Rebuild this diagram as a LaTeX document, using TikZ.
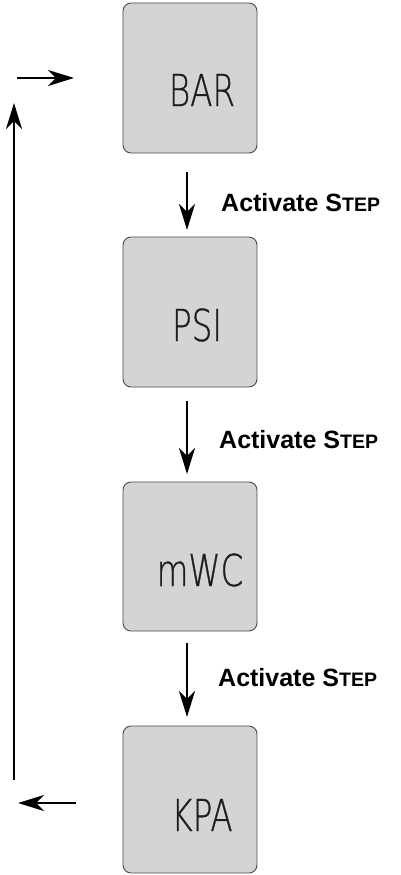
\documentclass[tikz,border=0pt]{standalone}
\usepackage{fontspec}
\setmainfont{Liberation Sans}
\newfontfamily\lcdfont[FakeStretch=0.74,FakeBold=0.6]{DejaVu Sans ExtraLight}
\usetikzlibrary{arrows.meta,calc}
\definecolor{lcdgray}{HTML}{D3D4D6}
\definecolor{lcdedge}{HTML}{4A4A4A}
\definecolor{lcdink}{HTML}{1E1E1E}
\tikzset{
  display/.style={draw=lcdedge, fill=lcdgray, line width=0.9pt, rounded corners=8pt},
  readout/.style={font=\lcdfont\fontsize{44}{44}\selectfont, text=lcdink, inner sep=0pt},
  flow/.style={line width=2.8pt, -{Stealth[length=26pt,width=16pt,inset=8pt]}},
  steplabel/.style={font=\bfseries\fontsize{25}{30}\selectfont, anchor=base west, inner sep=0pt}
}
\newcommand{\stepword}{Activate S{\fontsize{19.5}{20}\selectfont TEP}}
\begin{document}
\begin{tikzpicture}[x=1pt,y=-1pt]
\useasboundingbox (0,0) rectangle (400,875);
% displays
\draw[display] (123,3) rectangle (257,153);
\draw[display] (123,237) rectangle (257,387);
\draw[display] (123,482) rectangle (257,631);
\draw[display] (123,726) rectangle (257,873);
\coordinate (b1s) at (187,153);
\coordinate (b2n) at (187,237);
\coordinate (b2s) at (187,387);
\coordinate (b3n) at (187,482);
\coordinate (b3s) at (187,631);
\coordinate (b4n) at (187,726);
% readouts
\node[readout] (r1) at (202,90) {BAR};
\node[readout] (r2) at (197,325) {PSI};
\node[readout] (r3) at (200,570) {mWC};
\node[readout] (r4) at (202,815) {KPA};
% step arrows
\draw[flow] ($(b1s)+(0,19)$) -- ($(b2n)+(0,-7)$);
\draw[flow] ($(b2s)+(0,14)$) -- ($(b3n)+(0,-8)$);
\draw[flow] ($(b3s)+(0,12)$) -- ($(b4n)+(0,-9)$);
% labels
\node[steplabel] (l1) at (221,211) {\stepword};
\node[steplabel] (l2) at (219,448) {\stepword};
\node[steplabel] (l3) at (218,686) {\stepword};
% loop back
\coordinate (lb) at (14,780);
\coordinate (lt) at (14,103);
\coordinate (ti) at (17,78);
\coordinate (to) at (74,78);
\coordinate (bi) at (76,803);
\coordinate (bo) at (18,803);
\draw[flow] (lb) -- (lt);
\draw[flow] (ti) -- (to);
\draw[flow] (bi) -- (bo);
\end{tikzpicture}
\end{document}
